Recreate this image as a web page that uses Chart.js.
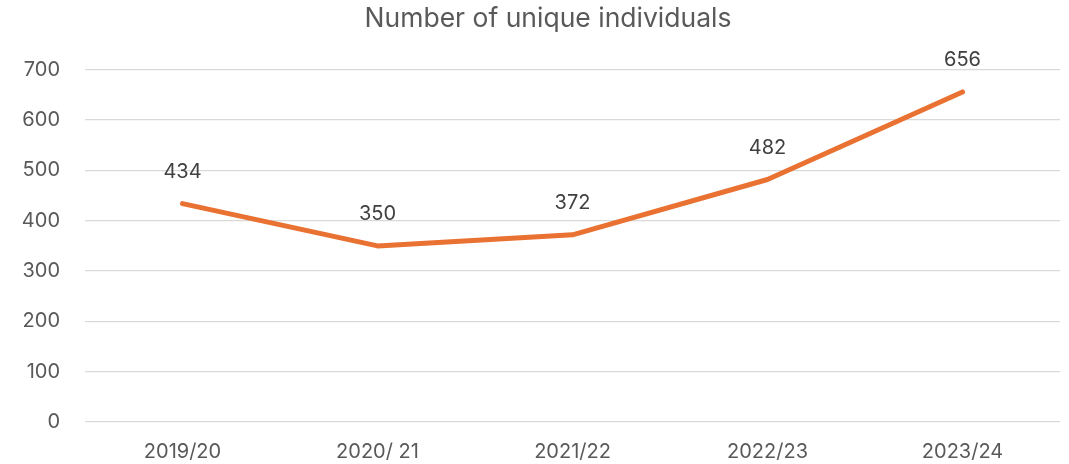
<!DOCTYPE html>
<html>
<head>
<meta charset="utf-8">
<script src="https://cdn.jsdelivr.net/npm/chart.js@4"></script>
<style>
html,body{margin:0;padding:0;background:#fff;}
#wrap{width:1069px;height:464px;}
</style>
</head>
<body>
<div id="wrap"><canvas id="c"></canvas></div>
<script>
const categories = ["2019/20", "2020/ 21", "2021/22", "2022/23", "2023/24"];
const individuals = [434, 350, 372, 482, 656];
const yTicks = [0, 100, 200, 300, 400, 500, 600, 700];

const FONT = "Inter, 'Liberation Sans', Arial, sans-serif";

const dataLabels = {
  id: 'dataLabels',
  afterDatasetsDraw(chart) {
    const ctx = chart.ctx;
    const meta = chart.getDatasetMeta(0);
    ctx.save();
    ctx.font = "20px " + FONT;
    ctx.fillStyle = "#404040";
    ctx.textAlign = "center";
    ctx.textBaseline = "middle";
    meta.data.forEach((pt, i) => {
      ctx.fillText(String(chart.data.datasets[0].data[i]), pt.x, pt.y - 32);
    });
    ctx.restore();
  }
};

const titleShift = {
  id: 'titleShift',
  afterLayout(chart) {
    if (chart.titleBlock) { chart.titleBlock.left = 36; }
  }
};

new Chart(document.getElementById('c'), {
  type: 'line',
  data: {
    labels: categories,
    datasets: [{
      data: individuals,
      borderColor: '#E97132',
      backgroundColor: '#E97132',
      borderWidth: 5,
      borderCapStyle: 'round',
      borderJoinStyle: 'round',
      pointRadius: 0,
      tension: 0,
      fill: false
    }]
  },
  options: {
    responsive: true,
    maintainAspectRatio: false,
    animation: false,
    layout: { padding: { left: 0, right: 9, top: 0, bottom: 0 } },
    plugins: {
      legend: { display: false },
      tooltip: { enabled: false },
      title: {
        display: true,
        text: 'Number of unique individuals',
        color: '#595959',
        font: { family: FONT, size: 26.5, weight: 'normal' },
        padding: { top: 3, bottom: 35 }
      }
    },
    scales: {
      x: {
        offset: true,
        grid: { display: false, drawTicks: false },
        border: { display: false },
        ticks: { color: '#595959', font: { family: FONT, size: 20 }, padding: 18, maxRotation: 0 },
        afterFit(s) { s.height = 42; }
      },
      y: {
        min: 0, max: 700,
        afterBuildTicks(s) { s.ticks = yTicks.map(v => ({ value: v })); },
        grid: { color: '#D9D9D9', lineWidth: 1.3, drawTicks: false },
        border: { display: false },
        ticks: { color: '#595959', font: { family: FONT, size: 20 }, padding: 25 },
        afterFit(s) { s.width = 85; }
      }
    }
  },
  plugins: [dataLabels, titleShift]
});
</script>
</body>
</html>
